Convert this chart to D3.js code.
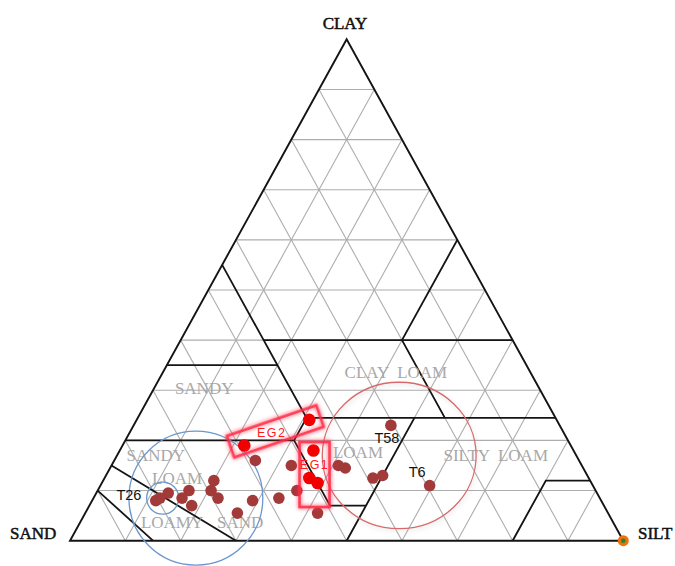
<!DOCTYPE html>
<html>
<head>
<meta charset="utf-8">
<script src="https://cdn.jsdelivr.net/npm/d3@7"></script>
<style>
  html, body { margin: 0; padding: 0; background: #fff; }
  svg { display: block; }
</style>
</head>
<body>
<div id="chart"></div>
<script>
// soil texture triangle (USDA style), points given as [sand, silt, clay] in %

const vertexNames = ['SAND', 'SILT', 'CLAY'];
const gridSteps = [10, 20, 30, 40, 50, 60, 70, 80, 90];

// class boundaries as polylines of [sand, silt, clay]
const boundaries = [
  [[90, 0, 10], [85, 15, 0]],
  [[85, 0, 15], [70, 30, 0]],
  [[80, 0, 20], [49.5, 30.5, 20], [45, 30.5, 24.5]],
  [[49.5, 30.5, 20], [49.5, 43.5, 7], [43, 50, 7]],
  [[50, 50, 0], [25.5, 50, 24.5]],
  [[45, 30.5, 24.5], [0, 75.5, 24.5]],
  [[45, 0, 55], [45, 15, 40], [45, 20, 35], [45, 30.5, 24.5]],
  [[65, 0, 35], [45, 20, 35]],
  [[45, 15, 40], [0, 60, 40]],
  [[20, 40, 40], [20, 55.5, 24.5]],
  [[20, 40, 40], [0, 40, 60]],
  [[20, 80, 0], [8, 80, 12], [0, 88, 12]]
];

const classNames = ['SANDY', 'SANDY', 'LOAM', 'LOAMY', 'SAND', 'CLAY  LOAM', 'LOAM', 'SILTY  LOAM'];
const classAt = [
  [60.5, 9, 30.5], [76, 7, 17], [74.4, 13.1, 12.5], [79.7, 16.6, 3.7],
  [67.4, 28.9, 3.7], [24.3, 42.1, 33.6], [39.1, 43.2, 17.7], [14.5, 68.4, 17.1]
];

// samples
const sampleIds = ['', '', '', '', 'T58', '', '', 'T6', '', '', '', '', '', '', '', '', '', '', '', '', 'T26', ''];
const sampleSand = [58.5, 52.5, 44, 43, 30.5, 39, 37, 29.5, 54, 58, 63, 67, 52.5, 68, 69.5, 69, 73.5, 75.5, 74.5, 77.5, 79.5, 80.5];
const sampleSilt = [25.5, 32.5, 41, 42.5, 46.5, 48.5, 50, 59.5, 36, 33.5, 29, 27.5, 42, 20, 20.5, 22.5, 16.5, 16, 18.5, 13, 12, 11.5];
const sampleClay = [16, 15, 15, 14.5, 23, 12.5, 13, 11, 10, 8.5, 8, 5.5, 5.5, 12, 10, 8.5, 10, 8.5, 7, 9.5, 8.5, 8];

// highlighted EG samples
const egGroup = ['EG2', 'EG2', 'EG1', 'EG1', 'EG1'];
const egSand = [44.7, 59, 47, 50.5, 49.5];
const egSilt = [31.2, 22, 35, 37, 39];
const egClay = [24.1, 19, 18, 12.5, 11.5];

const width = 675;
const height = 566;

const xScale = d3.scaleLinear().domain([0, 100]).range([70, 623.3]); // silt + clay/2
const yScale = d3.scaleLinear().domain([0, 100]).range([540.7, 39.3]); // clay

function proj(p) {
  const silt = p[1], clay = p[2];
  return [xScale(silt + clay / 2), yScale(clay)];
}

const svg = d3.select('#chart').append('svg')
  .attr('width', width)
  .attr('height', height);

const defs = svg.append('defs');
const glow = defs.append('filter').attr('id', 'glow')
  .attr('x', '-30%').attr('y', '-30%').attr('width', '160%').attr('height', '160%');
glow.append('feGaussianBlur').attr('in', 'SourceGraphic').attr('stdDeviation', 2.2).attr('result', 'b');
const gm = glow.append('feMerge');
gm.append('feMergeNode').attr('in', 'b');
gm.append('feMergeNode').attr('in', 'SourceGraphic');

const shadow = defs.append('filter').attr('id', 'shadow')
  .attr('x', '-20%').attr('y', '-20%').attr('width', '140%').attr('height', '140%');
shadow.append('feDropShadow').attr('dx', 1).attr('dy', 2).attr('stdDeviation', 2)
  .attr('flood-color', '#999').attr('flood-opacity', 0.35);

const line = d3.line().x(d => proj(d)[0]).y(d => proj(d)[1]);

// grid
const grid = svg.append('g')
  .attr('stroke', '#adadad')
  .attr('stroke-width', 1.1)
  .attr('fill', 'none');
gridSteps.forEach(v => {
  grid.append('path').attr('d', line([[100 - v, 0, v], [0, 100 - v, v]]));
  grid.append('path').attr('d', line([[100 - v, v, 0], [0, v, 100 - v]]));
  grid.append('path').attr('d', line([[v, 100 - v, 0], [v, 0, 100 - v]]));
});

// class boundaries
svg.append('g')
  .selectAll('path')
  .data(boundaries)
  .enter()
  .append('path')
  .attr('d', line)
  .attr('fill', 'none')
  .attr('stroke', '#141414')
  .attr('stroke-width', 1.8);

// outline
svg.append('path')
  .attr('d', line([[100, 0, 0], [0, 100, 0], [0, 0, 100]]) + 'Z')
  .attr('fill', 'none')
  .attr('stroke', '#141414')
  .attr('stroke-width', 1.9)
  .attr('stroke-linejoin', 'miter');

// class names
svg.append('g')
  .selectAll('text')
  .data(classNames)
  .enter()
  .append('text')
  .attr('x', (d, i) => proj(classAt[i])[0])
  .attr('y', (d, i) => proj(classAt[i])[1])
  .attr('dy', '0.35em')
  .attr('text-anchor', 'middle')
  .attr('font-family', '"Liberation Serif", "Times New Roman", serif')
  .attr('font-size', 17)
  .attr('fill', '#a8a8a8')
  .style('white-space', 'pre')
  .text(d => d);

// vertex names
const vPos = [[10, 539, 'start'], [638, 539, 'start'], [345, 28.5, 'middle']];
svg.append('g')
  .selectAll('text')
  .data(vertexNames)
  .enter()
  .append('text')
  .attr('x', (d, i) => vPos[i][0])
  .attr('y', (d, i) => vPos[i][1])
  .attr('text-anchor', (d, i) => vPos[i][2])
  .attr('font-family', '"Liberation Serif", "Times New Roman", serif')
  .attr('font-size', 17)
  .attr('fill', '#111')
  .attr('stroke', '#111')
  .attr('stroke-width', 0.5)
  .text(d => d);

// group circles
const px = 5.533, py = 5.014;
const sandCircle = [73, 18.5, 8.5];
const t26Circle = [79, 12.5, 8.5];
const loamEllipse = [32, 51, 17];
svg.append('circle')
  .attr('cx', proj(sandCircle)[0]).attr('cy', proj(sandCircle)[1])
  .attr('r', 12.1 * px)
  .attr('fill', 'none').attr('stroke', '#6b97cf').attr('stroke-width', 1.3);
svg.append('circle')
  .attr('cx', proj(t26Circle)[0]).attr('cy', proj(t26Circle)[1])
  .attr('r', 2.9 * px)
  .attr('fill', 'none').attr('stroke', '#6b97cf').attr('stroke-width', 1.3);
svg.append('ellipse')
  .attr('cx', proj(loamEllipse)[0]).attr('cy', proj(loamEllipse)[1])
  .attr('rx', 13.9 * px).attr('ry', 14.6 * py)
  .attr('fill', 'none').attr('stroke', '#d86a6a').attr('stroke-width', 1.3)
  .attr('filter', 'url(#shadow)');

// samples
const samples = sampleSand.map((s, i) => [s, sampleSilt[i], sampleClay[i]]);
svg.append('g')
  .selectAll('circle')
  .data(samples)
  .enter()
  .append('circle')
  .attr('cx', d => proj(d)[0])
  .attr('cy', d => proj(d)[1])
  .attr('r', 5.8)
  .attr('fill', '#a23a3a');

const egPts = egSand.map((s, i) => [s, egSilt[i], egClay[i]]);
svg.append('g')
  .selectAll('circle')
  .data(egPts)
  .enter()
  .append('circle')
  .attr('cx', d => proj(d)[0])
  .attr('cy', d => proj(d)[1])
  .attr('r', 6.3)
  .attr('fill', '#f20000');

// sample ids
const idOffset = { T58: [-4, 12.5], T6: [-12.5, -14], T26: [-31, -3] };
svg.append('g')
  .selectAll('text')
  .data(samples.map((d, i) => ({ p: d, id: sampleIds[i] })).filter(d => d.id))
  .enter()
  .append('text')
  .attr('x', d => proj(d.p)[0] + idOffset[d.id][0])
  .attr('y', d => proj(d.p)[1] + idOffset[d.id][1])
  .attr('dy', '0.35em')
  .attr('text-anchor', 'middle')
  .attr('font-family', '"Liberation Sans", Arial, sans-serif')
  .attr('font-size', 14.5)
  .attr('fill', '#111')
  .text(d => d.id);

// EG boxes: centre in %, width/height in px, rotation
const boxNames = ['EG1', 'EG2'];
const boxAt = [[49.2, 37.6, 13.2], [52, 26.2, 21.8]];
const boxSize = [[30, 65, 0], [94.5, 22.7, -18.9]];
const boxText = [[0, -9.5], [-3.5, 1]];
const boxes = svg.append('g')
  .selectAll('g')
  .data(boxNames)
  .enter()
  .append('g')
  .attr('transform', (d, i) => {
    const c = proj(boxAt[i]);
    return `translate(${c[0]},${c[1]})`;
  });
boxes.append('rect')
  .attr('x', (d, i) => -boxSize[i][0] / 2)
  .attr('y', (d, i) => -boxSize[i][1] / 2)
  .attr('width', (d, i) => boxSize[i][0])
  .attr('height', (d, i) => boxSize[i][1])
  .attr('transform', (d, i) => `rotate(${boxSize[i][2]})`)
  .attr('fill', 'none')
  .attr('stroke', '#ff2a45')
  .attr('stroke-width', 2.6)
  .attr('opacity', 0.9)
  .attr('filter', 'url(#glow)');
boxes.append('text')
  .attr('x', (d, i) => boxText[i][0])
  .attr('y', (d, i) => boxText[i][1])
  .attr('dy', '0.35em')
  .attr('text-anchor', 'middle')
  .attr('font-family', '"Liberation Sans", Arial, sans-serif')
  .attr('font-size', 12.5)
  .attr('letter-spacing', 1.5)
  .attr('fill', '#ff1a1a')
  .text(d => d);

// silt corner marker
const corner = proj([0, 100, 0]);
svg.append('circle').attr('cx', corner[0]).attr('cy', corner[1]).attr('r', 5.5).attr('fill', '#f0700f');
svg.append('circle').attr('cx', corner[0]).attr('cy', corner[1]).attr('r', 2.3).attr('fill', '#1f8a2b');
</script>
</body>
</html>
